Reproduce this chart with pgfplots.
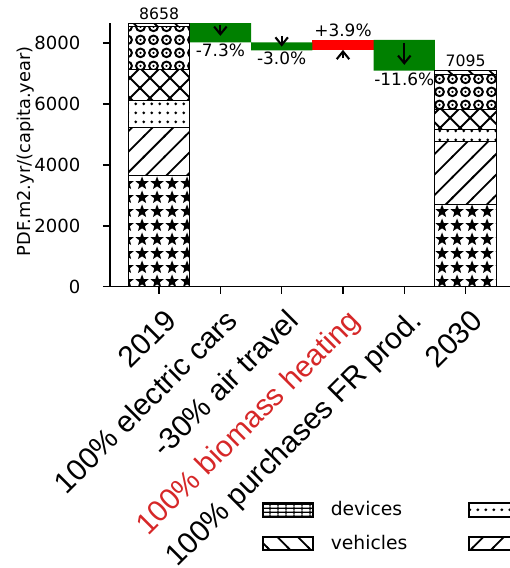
\documentclass[border=0pt]{standalone}
\usepackage{pgfplots}
\pgfplotsset{compat=1.18}
\usepackage{fontspec}
\setmainfont{DejaVu Sans}
\newfontfamily\arialfont{Liberation Sans}
\usetikzlibrary{patterns.meta,arrows.meta}
\definecolor{wfgreen}{HTML}{008000}
\definecolor{wfred}{HTML}{FF0000}
\definecolor{labred}{HTML}{D62728}
\newcommand\fs[1]{\fontsize{#1}{#1}\selectfont}

% hatch patterns
\tikzdeclarepattern{name=mpstars, type=uncolored,
  bounding box={(0pt,0pt) and (10.8pt,10.1pt)}, tile size={(10.8pt,10.1pt)},
  code={\fill[shift={(5.4pt,5.05pt)}] (90:5.3pt) -- (126:2.25pt) -- (162:5.3pt) -- (198:2.25pt) -- (234:5.3pt) -- (270:2.25pt) -- (306:5.3pt) -- (342:2.25pt) -- (18:5.3pt) -- (54:2.25pt) -- cycle;}}
\tikzdeclarepattern{name=mpne, type=uncolored,
  bounding box={(-1pt,-1pt) and (15.8pt,15.8pt)}, tile size={(14.8pt,14.8pt)},
  code={\draw[line width=1.3pt] (-1pt,-1pt) -- (15.8pt,15.8pt);}}
\tikzdeclarepattern{name=mpnw, type=uncolored,
  bounding box={(-1pt,-1pt) and (15.8pt,15.8pt)}, tile size={(14.8pt,14.8pt)},
  code={\draw[line width=1.3pt] (-1pt,15.8pt) -- (15.8pt,-1pt);}}
\tikzdeclarepattern{name=mpcross, type=uncolored,
  bounding box={(-1pt,-1pt) and (15.4pt,15.4pt)}, tile size={(14.4pt,14.4pt)},
  code={\draw[line width=1.4pt] (-1pt,-1pt) -- (15.4pt,15.4pt); \draw[line width=1.4pt] (-1pt,15.4pt) -- (15.4pt,-1pt);}}
\tikzdeclarepattern{name=mpdots, type=uncolored,
  bounding box={(0pt,0pt) and (5.6pt,6.5pt)}, tile size={(5.6pt,6.5pt)},
  code={\fill (2.8pt,3.25pt) circle (1.15pt);}}
\tikzdeclarepattern{name=mprings, type=uncolored,
  bounding box={(0pt,0pt) and (9.7pt,9.4pt)}, tile size={(9.7pt,9.4pt)},
  code={\draw[line width=1.5pt] (4.85pt,4.7pt) circle (3.3pt); \fill (4.85pt,4.7pt) circle (1pt);}}
\tikzdeclarepattern{name=mpgrid, type=uncolored,
  bounding box={(0pt,0pt) and (6pt,3pt)}, tile size={(6pt,3pt)},
  code={\draw[line width=1pt] (3pt,0pt) -- (3pt,3pt); \draw[line width=1pt] (0pt,1.5pt) -- (6pt,1.5pt);}}

\pgfplotsset{wf/.style={scale only axis, width=291.3pt, height=189.9pt,
  xmin=-0.8, xmax=5.8, ymin=0, ymax=8665, enlargelimits=false}}

\begin{document}
\begin{tikzpicture}
% waterfall steps
\begin{axis}[wf, hide axis, ybar stacked, bar width=1]
\addplot[draw=none, fill=none] coordinates {(1,8026) (2,7766) (3,7766) (4,7095)};
\addplot[draw=none, fill=wfgreen] coordinates {(1,632) (2,260) (3,0) (4,1010)};
\addplot[draw=none, fill=wfred] coordinates {(1,0) (2,0) (3,339) (4,0)};
\end{axis}
% stacked totals
\begin{axis}[wf,
  ybar stacked, bar width=1,
  axis lines*=left, axis line style={-, line width=1pt},
  tick align=outside, major tick length=5.2pt, tick style={line width=1pt, black},
  xtick={0,1,2,3,4,5},
  xticklabels={2019,100\% electric cars,-30\% air travel,\textcolor{labred}{100\% biomass heating},100\% purchases FR prod.,2030},
  xticklabel style={font=\arialfont\fs{21.5}, xshift=13.6pt, yshift=-20.5pt, rotate=45, anchor=base east, inner sep=0pt},
  ytick={0,2000,4000,6000,8000},
  yticklabel style={font=\fs{13}, anchor=east, inner sep=0pt, xshift=-15.9pt},
  /pgf/number format/assume math mode=true, /pgf/number format/1000 sep={},
  scaled y ticks=false,
  ylabel={PDF.m2.yr/(capita.year)},
  every axis y label/.style={at={(axis description cs:-0.2077,0.513)}, rotate=90, anchor=center, font=\fs{12.8}},
]
\addplot[draw=black, line width=0.7pt, pattern=mpstars, pattern color=black] coordinates {(0,3649) (5,2685)};
\addplot[draw=black, line width=0.7pt, pattern=mpne, pattern color=black] coordinates {(0,1578) (5,2081)};
\addplot[draw=black, line width=0.7pt, pattern=mpdots, pattern color=black] coordinates {(0,878) (5,384)};
\addplot[draw=black, line width=0.7pt, pattern=mpcross, pattern color=black] coordinates {(0,1041) (5,658)};
\addplot[draw=black, line width=0.7pt, pattern=mprings, pattern color=black] coordinates {(0,1404) (5,1150)};
\addplot[draw=black, line width=0.7pt, pattern=mpnw, pattern color=black] coordinates {(0,108) (5,137)};
\end{axis}
% arrows, labels, legend
\begin{axis}[wf, hide axis, clip=false,
  legend style={at={(axis description cs:0.376,-0.815)}, anchor=north west,
    draw=none, fill=none, inner sep=0pt, outer sep=0pt, font=\fs{13.5},
    legend columns=2,
    /tikz/every odd column/.append style={column sep=12pt},
    /tikz/every even column/.append style={column sep=44pt},
    row sep=5.5pt, nodes={inner sep=0pt}},
  legend cell align=left,
  legend image code/.code={\path (0pt,-12.8pt); \draw[#1, line width=1.4pt] (0pt,-4.8pt) rectangle (36pt,4.8pt);},
]
\addlegendimage{pattern=mpgrid, pattern color=black, draw=black}
\addlegendentry{devices}
\addlegendimage{pattern=mpdots, pattern color=black, draw=black}
\addlegendentry{}
\addlegendimage{pattern=mpnw, pattern color=black, draw=black}
\addlegendentry{vehicles}
\addlegendimage{pattern=mpne, pattern color=black, draw=black}
\addlegendentry{}
\addplot[black, line width=1.5pt, quiver={u=0, v=\thisrow{v}}, -{Straight Barb[length=5.5pt, width=9pt]}] table {
x y v
1 8600 -360
2 8240 -353
3 7510 270
4 8010 -723
};
\node[anchor=south, inner sep=2.4pt, font=\fs{11.3}] at (axis cs:0,8658) {8658};
\node[anchor=south, inner sep=2.4pt, font=\fs{11.3}] at (axis cs:5,7095) {7095};
\node[anchor=north, inner sep=0.6pt, font=\fs{12.2}] at (axis cs:1,8026) {-7.3\%};
\node[anchor=north, inner sep=1.2pt, font=\fs{12.2}] at (axis cs:2,7766) {-3.0\%};
\node[anchor=south, inner sep=1.9pt, font=\fs{12.2}] at (axis cs:3,8105) {+3.9\%};
\node[anchor=north, inner sep=1.4pt, font=\fs{12.2}] at (axis cs:4,7095) {-11.6\%};
\end{axis}
\pgfresetboundingbox
\path[use as bounding box] (-79.2pt,-202.5pt) rectangle (287.3pt,206.4pt);
\end{tikzpicture}
\end{document}
